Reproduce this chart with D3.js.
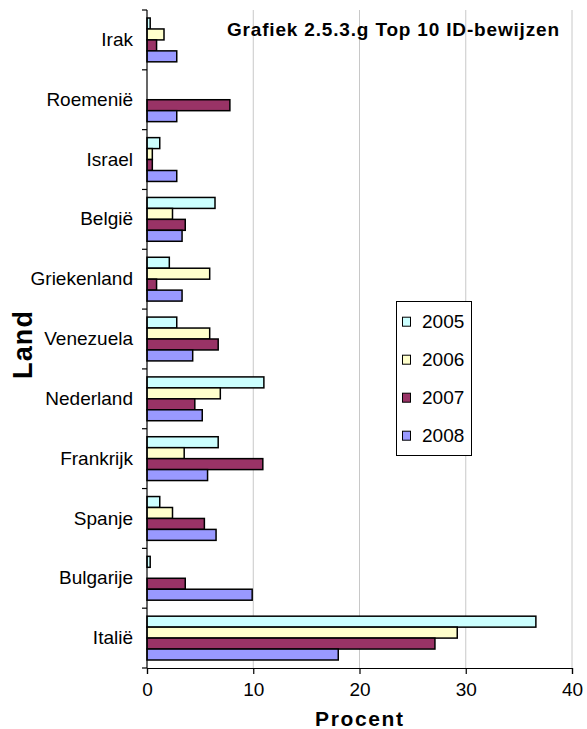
<!DOCTYPE html>
<html>
<head>
<meta charset="utf-8">
<script src="https://cdn.jsdelivr.net/npm/d3@7"></script>
<style>
  html, body { margin: 0; padding: 0; background: #fff; }
  svg { display: block; font-family: "Liberation Sans", Arial, sans-serif; }
</style>
</head>
<body>
<svg id="chart" width="587" height="729"></svg>
<script>
const categories = ["Irak", "Roemenië", "Israel", "België", "Griekenland", "Venezuela", "Nederland", "Frankrijk", "Spanje", "Bulgarije", "Italië"];
const years = ["2005", "2006", "2007", "2008"];
const values2005 = [0.3, 0, 1.2, 6.4, 2.1, 2.8, 11.0, 6.7, 1.2, 0.3, 36.6];
const values2006 = [1.6, 0, 0.5, 2.4, 5.9, 5.9, 6.9, 3.5, 2.4, 0, 29.2];
const values2007 = [0.9, 7.8, 0.5, 3.6, 0.9, 6.7, 4.5, 10.9, 5.4, 3.6, 27.1];
const values2008 = [2.8, 2.8, 2.8, 3.3, 3.3, 4.3, 5.2, 5.7, 6.5, 9.9, 18.0];
const xTicks = [0, 10, 20, 30, 40];
const colors = ["#CCFFFF", "#FFFFCC", "#993366", "#9999FF"];
const chartTitle = "Grafiek 2.5.3.g Top 10 ID-bewijzen";

(function () {
const series = [values2005, values2006, values2007, values2008];
const svg = d3.select("#chart");

const pL = 147, pR = 572, pT = 10, pB = 668;
const x = d3.scaleLinear().domain([0, 40]).range([pL, pR]);
const y = d3.scaleBand().domain(categories).range([pT, pB]).padding(0);
const step = y.step();
const yInner = d3.scaleBand().domain(years).range([8, step - 8]).padding(0);

// gridlines
svg.append("g").selectAll("line").data(xTicks.filter(d => d > 0)).join("line")
  .attr("x1", d => x(d)).attr("x2", d => x(d))
  .attr("y1", pT).attr("y2", pB)
  .attr("stroke", "#c8c8c8").attr("stroke-width", 1);

// bars
const groups = svg.append("g").selectAll("g").data(categories).join("g")
  .attr("transform", c => `translate(0,${y(c)})`);
groups.selectAll("rect")
  .data((c, i) => years.map((yr, j) => ({yr, v: series[j][i], j})).filter(d => d.v > 0))
  .join("rect")
  .attr("x", x(0))
  .attr("y", d => yInner(d.yr))
  .attr("width", d => x(d.v) - x(0))
  .attr("height", yInner.bandwidth())
  .attr("fill", d => colors[d.j])
  .attr("stroke", "#000")
  .attr("stroke-width", 1.5);

// x axis
const xAxis = svg.append("g").attr("transform", `translate(0,${pB})`)
  .call(d3.axisBottom(x).tickValues(xTicks).tickSize(6).tickPadding(9).tickFormat(d3.format("d")));
xAxis.select(".domain").attr("stroke", "#000").attr("stroke-width", 1.2);
xAxis.selectAll(".tick line").attr("stroke", "#000").attr("stroke-width", 1.2);
xAxis.selectAll("text").attr("font-size", 19).attr("fill", "#000")
  .attr("font-family", "Liberation Sans, Arial, sans-serif");

// y axis (labels at band centres)
const yAxis = svg.append("g").attr("transform", `translate(${pL},0)`)
  .call(d3.axisLeft(y).tickSize(0).tickPadding(14));
yAxis.select(".domain").remove();
yAxis.selectAll("text").attr("font-size", 19).attr("fill", "#000")
  .attr("font-family", "Liberation Sans, Arial, sans-serif");

// y axis line + boundary ticks
const bounds = categories.map(c => y(c)).concat([pB]);
svg.append("line").attr("x1", pL).attr("x2", pL).attr("y1", pT).attr("y2", pB)
  .attr("stroke", "#000").attr("stroke-width", 1.2);
svg.append("g").selectAll("line").data(bounds).join("line")
  .attr("x1", pL - 5).attr("x2", pL).attr("y1", d => d).attr("y2", d => d)
  .attr("stroke", "#000").attr("stroke-width", 1.2);

// title
svg.append("text").attr("x", 227).attr("y", 35.5)
  .attr("font-size", 19).attr("font-weight", "bold")
  .attr("textLength", 332).attr("lengthAdjust", "spacing")
  .text(chartTitle);

// axis titles
svg.append("text").attr("x", (pL + pR) / 2 - 0.5).attr("y", 726)
  .attr("text-anchor", "middle").attr("font-size", 21).attr("font-weight", "bold")
  .attr("textLength", 88).attr("lengthAdjust", "spacing")
  .text("Procent");
svg.append("text").attr("transform", "translate(32,345) rotate(-90)")
  .attr("text-anchor", "middle").attr("font-size", 27).attr("font-weight", "bold")
  .attr("textLength", 68).attr("lengthAdjust", "spacing")
  .text("Land");

// legend
const lg = svg.append("g");
lg.append("rect").attr("x", 396.5).attr("y", 301.5).attr("width", 75).attr("height", 154)
  .attr("fill", "#fff").attr("stroke", "#000").attr("stroke-width", 1);
const items = lg.selectAll("g.item").data(years).join("g").attr("class", "item")
  .attr("transform", (d, i) => `translate(0,${321.7 + i * 38})`);
items.append("rect").attr("x", 402.5).attr("y", -4.5).attr("width", 8).attr("height", 9)
  .attr("fill", (d, i) => colors[i]).attr("stroke", "#000").attr("stroke-width", 1);
items.append("text").attr("x", 422).attr("y", 0).attr("dy", "0.35em")
  .attr("font-size", 19).text(d => d);
})();
</script>
</body>
</html>
